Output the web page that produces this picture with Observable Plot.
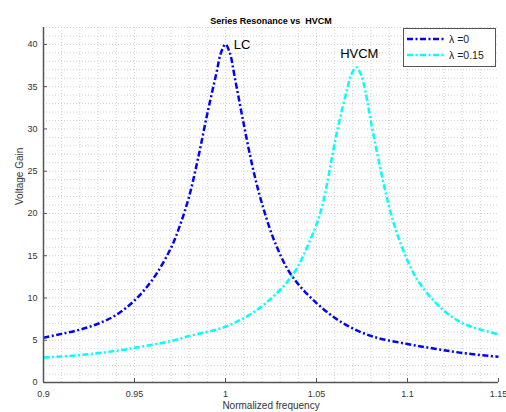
<!DOCTYPE html>
<html><head><meta charset="utf-8">
<script src="https://cdn.jsdelivr.net/npm/d3@7"></script>
<script src="https://cdn.jsdelivr.net/npm/@observablehq/plot@0.6"></script>
<style>
body{margin:0;background:#fff;}
#chart{position:relative;width:506px;height:412px;font-family:"Liberation Sans",Arial,sans-serif;}
#legend{position:absolute;left:403px;top:28px;width:91px;height:37px;border:1.5px solid #555;background:#fff;}
</style>
</head><body><div id="chart"></div>
<script>
const title = "Series Resonance vs  HVCM";
const xLabel = "Normalized frequency";
const yLabel = "Voltage Gain";
const seriesNames = ["λ =0", "λ =0.15"];
const seriesColors = ["#0000ff", "#00ffff"];
const xTicks = [0.9, 0.95, 1, 1.05, 1.1, 1.15];
const xTickLabels = ["0.9", "0.95", "1", "1.05", "1.1", "1.15"];
const yTicks = [0, 5, 10, 15, 20, 25, 30, 35, 40];

// LC (λ = 0)
const lcFreq = [0.90, 0.91, 0.92, 0.93, 0.94, 0.95, 0.96, 0.97, 0.975, 0.98, 0.985, 0.99, 0.995, 0.9975, 1.0, 1.0025, 1.005, 1.01, 1.015, 1.02, 1.0275, 1.0365, 1.05, 1.064, 1.08, 1.10, 1.115, 1.13, 1.15];
const lcGain = [5.3, 5.75, 6.25, 6.95, 8.0, 9.7, 12.2, 15.9, 18.6, 22.0, 26.6, 31.8, 36.6, 39.0, 40.0, 38.9, 36.2, 30.6, 25.4, 21.2, 16.4, 12.6, 9.4, 7.1, 5.5, 4.55, 4.0, 3.5, 3.05];

// HVCM (λ = 0.15)
const hvcmFreq = [0.90, 0.92, 0.94, 0.95, 0.97, 0.98, 1.0, 1.018, 1.0365, 1.0456, 1.0524, 1.0612, 1.0667, 1.069, 1.0718, 1.0745, 1.0768, 1.081, 1.0905, 1.097, 1.105, 1.1143, 1.1235, 1.1326, 1.15];
const hvcmGain = [2.95, 3.25, 3.75, 4.1, 4.9, 5.5, 6.6, 8.7, 12.6, 16.4, 20.3, 29.6, 34.6, 36.4, 37.3, 36.4, 34.5, 29.6, 20.3, 16.0, 12.3, 9.7, 7.9, 6.8, 5.7];

const annoText = ["LC", "HVCM"];
const annoX = [1.0045, 1.0735];
const annoY = [39.9, 38.9];

const rows = [
  ...lcFreq.map((f, i) => ({f, g: lcGain[i], s: seriesNames[0]})),
  ...hvcmFreq.map((f, i) => ({f, g: hvcmGain[i], s: seriesNames[1]}))
];

const axisColor = "#555";
const dash = "6,2.5,2,2.5";
const plot = Plot.plot({
  width: 506, height: 412,
  marginTop: 27, marginRight: 8, marginBottom: 30, marginLeft: 43,
  style: {fontFamily: "Liberation Sans, Arial, sans-serif", fontSize: "9px", color: "#333", background: "#fff", overflow: "visible"},
  x: {domain: [0.9, 1.15]},
  y: {domain: [0, 42]},
  color: {domain: seriesNames, range: seriesColors},
  marks: [
    Plot.gridX({interval: 0.01, stroke: "#d2d2d2", strokeOpacity: 1, strokeDasharray: "1,2"}),
    Plot.gridY({interval: 1, stroke: "#d2d2d2", strokeOpacity: 1, strokeDasharray: "1,2"}),
    Plot.line(rows, {x: "f", y: "g", z: "s", stroke: "s", strokeWidth: 2.5, strokeDasharray: dash, strokeLinecap: "butt", curve: "catmull-rom"}),
    Plot.ruleX([0.9], {stroke: axisColor, strokeWidth: 1.5}),
    Plot.ruleY([0], {stroke: axisColor, strokeWidth: 1.5}),
    Plot.axisX({ticks: xTicks, tickFormat: d => xTickLabels[xTicks.indexOf(d)], tickSize: -4, tickPadding: 12, stroke: axisColor, label: null}),
    Plot.axisY({ticks: yTicks, tickSize: -4, tickPadding: 10, stroke: axisColor, label: null}),
    Plot.text([xLabel], {frameAnchor: "bottom", dy: 26, fontSize: 10, fill: "#333"}),
    Plot.text([yLabel], {frameAnchor: "left", dx: -24, rotate: -90, fontSize: 10, fill: "#333"}),
    Plot.text([title], {frameAnchor: "top", dy: -10, fontWeight: "bold", fontSize: 9, fill: "#000"}),
    Plot.text([0], {x: i => annoX[i], y: i => annoY[i], text: i => annoText[i], textAnchor: "start", fontSize: 13, fill: "#000"}),
    Plot.text([1], {x: i => annoX[i], y: i => annoY[i], text: i => annoText[i], textAnchor: "middle", fontSize: 13, fill: "#000"})
  ]
});
const chart = document.getElementById("chart");
chart.appendChild(plot);

// legend
const legend = d3.select(chart).append("div").attr("id", "legend");
const lsvg = legend.append("svg").attr("width", 91).attr("height", 37);
seriesNames.forEach((name, i) => {
  const y = 10 + i * 16;
  lsvg.append("line").attr("x1", 3).attr("x2", 42).attr("y1", y).attr("y2", y)
    .attr("stroke", seriesColors[i]).attr("stroke-width", 2.5).attr("stroke-dasharray", dash);
  lsvg.append("text").attr("x", 45).attr("y", y).attr("dy", "0.35em")
    .attr("font-size", 10.5).attr("font-family", "Liberation Sans, Arial, sans-serif").attr("fill", "#222").text(name);
});
</script>
</body></html>
